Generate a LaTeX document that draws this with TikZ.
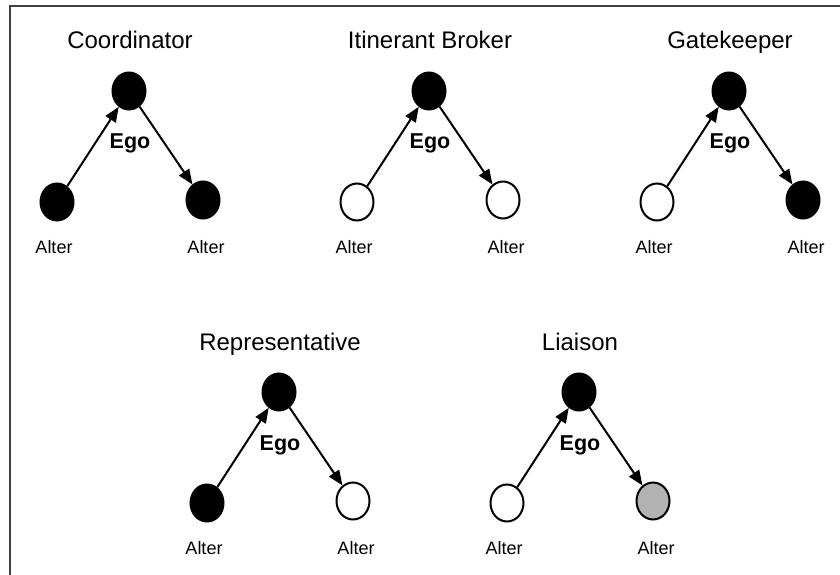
\documentclass[tikz,border=0pt]{standalone}
\usepackage{fontspec}
\setmainfont{Liberation Sans}
\usetikzlibrary{arrows.meta,shapes.geometric}
\newcommand\egogroup[6]{%
  \begin{scope}[shift={(#2,#3)}]
    \node[ttl] (#1t) at (130,49) {#4};
    \node[blk] (#1e) at (129,91) {};
    \node[#5] (#1l) at (57,202) {};
    \node[#6] (#1r) at (203,200) {};
    \node[egol] (#1g) at (130,149) {Ego};
    \node[lbl] (#1la) at (54,253) {Alter};
    \node[lbl] (#1ra) at (206,253) {Alter};
    \draw[arr] (#1l) -- (#1e);
    \draw[arr] (#1e) -- (#1r);
  \end{scope}}
\begin{document}
\begin{tikzpicture}[x=1pt,y=-1pt,
  blk/.style={ellipse, draw=black, fill=black, line width=2pt,
    minimum width=33pt, minimum height=37pt, inner sep=0pt},
  wht/.style={blk, fill=white},
  gry/.style={blk, fill=black!30},
  arr/.style={line width=2pt, -{Triangle[length=15pt,width=12pt]}},
  ttl/.style={font=\fontsize{24}{28}\selectfont, anchor=base, inner sep=0pt},
  lbl/.style={font=\fontsize{18}{22}\selectfont, anchor=base, inner sep=0pt},
  egol/.style={font=\bfseries\fontsize{21.5}{25}\selectfont, anchor=base, inner sep=0pt}]
  \useasboundingbox (0,0) rectangle (840,575);
  \fill[white] (0,0) rectangle (840,575);
  \draw[line width=1.6pt, black!75] (10,575) -- (10,6) -- (840,6);
  \egogroup{a}{0}{0}{Coordinator}{blk}{blk}
  \egogroup{b}{300}{0}{Itinerant Broker}{wht}{wht}
  \egogroup{c}{600}{0}{Gatekeeper}{wht}{blk}
  \egogroup{d}{150}{301}{Representative}{blk}{wht}
  \egogroup{e}{450}{301}{Liaison}{wht}{gry}
\end{tikzpicture}
\end{document}
